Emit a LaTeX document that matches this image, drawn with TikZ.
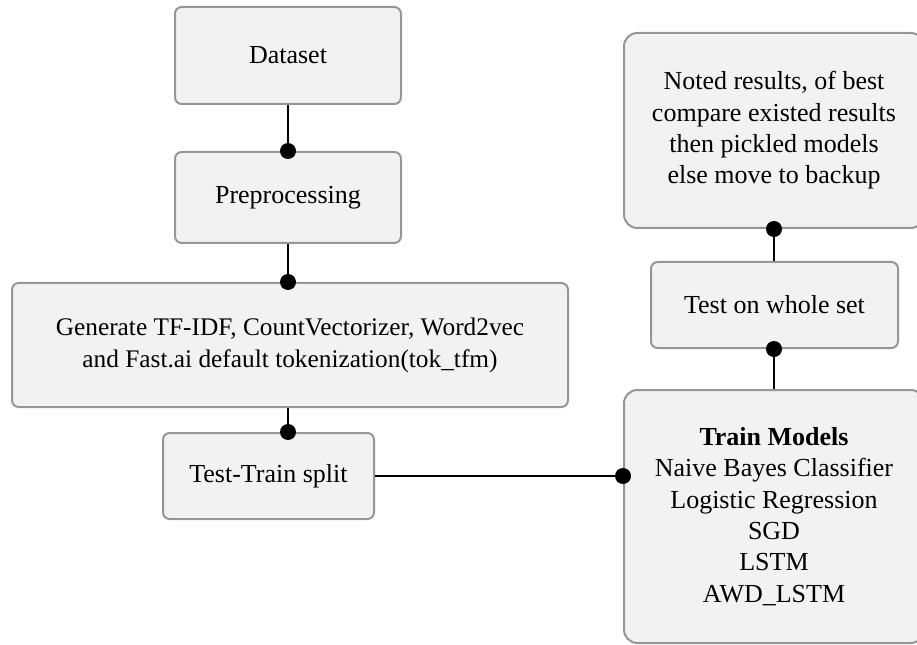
\documentclass[tikz,border=0pt]{standalone}
\usepackage{fontspec}
\setmainfont{Liberation Serif}
\definecolor{boxfill}{RGB}{242,242,242}
\definecolor{boxline}{RGB}{150,150,150}

\begin{document}
\begin{tikzpicture}[x=0.75pt,y=-0.75pt,
		box/.style={draw=boxline,fill=boxfill,line width=1.5pt,rounded corners=5pt,align=center,font=\fontsize{19.5}{23.5}\selectfont},
		link/.style={line width=1.5pt}]
					\clip (0,0) rectangle (917,645);
					% left column
					\node [box,minimum width=169.5pt,minimum height=72.75pt] (dataset) at (288,55.5) {Dataset};
					\node [box,minimum width=169.5pt,minimum height=68.25pt] (prep) at (288,197.5) {Preprocessing};
					\node [box,minimum width=417pt,minimum height=93pt,font=\fontsize{19}{24}\selectfont] (gen) at (290,345) {Generate TF-IDF, CountVectorizer, Word2vec\\and Fast.ai default tokenization(tok\_tfm)};
					\node [box,minimum width=158.25pt,minimum height=64.5pt] (split) at (268.5,476) {Test-Train split};
					% right column
					\node [box,rounded corners=10pt,minimum width=225pt,minimum height=189.75pt] (train) at (774,516.5) {\textbf{Train Models}\\Naive Bayes Classifier\\Logistic Regression\\SGD\\LSTM\\AWD\_LSTM};
					\node [box,minimum width=185.25pt,minimum height=64.5pt] (test) at (774.5,305) {Test on whole set};
					\node [box,rounded corners=10pt,minimum width=225pt,minimum height=146.25pt] (noted) at (774,130.5) {Noted results, of best\\compare existed results\\then pickled models\\else move to backup};
					% connectors
					\draw [link](dataset.south)--(prep.north);
					\fill (prep.north) circle (6pt);
					\draw [link](prep.south)--(prep.south |- gen.north);
					\fill (prep.south |- gen.north) circle (6pt);
					\draw [link](gen.south -| prep.south)--(split.north -| prep.south);
					\fill (split.north -| prep.south) circle (6pt);
					\draw [link](split.east)--(split.east -| train.west);
					\fill (split.east -| train.west) circle (6pt);
					\draw [link](train.north)--(test.south -| train.north);
					\fill (test.south -| train.north) circle (6pt);
					\draw [link](test.north -| noted.south)--(noted.south);
					\fill (noted.south) circle (6pt);
				\end{tikzpicture}
\end{document}
